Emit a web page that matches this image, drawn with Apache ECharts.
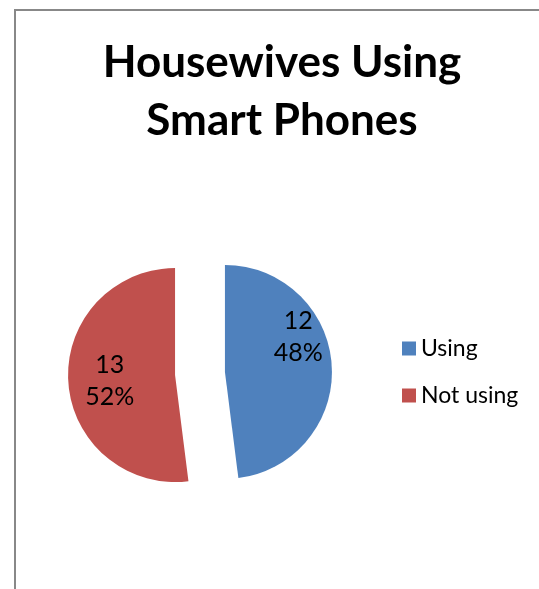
<!DOCTYPE html>
<html>
<head>
<meta charset="utf-8">
<script src="https://cdn.jsdelivr.net/npm/echarts@6/dist/echarts.min.js"></script>
<style>html,body{margin:0;padding:0;background:#fff;}#c{width:539px;height:589px;}</style>
</head>
<body>
<div id="c"></div>
<script>
var titleText = 'Housewives Using\nSmart Phones';
var categories = ['Using', 'Not using'];
var values = [12, 13];
var colors = ['#4F81BD', '#C0504D'];

var labelShifts = [[17, -31], [-9, 2]];

var chart = echarts.init(document.getElementById('c'), null, {renderer: 'canvas'});
var data = categories.map(function (name, i) {
  return {
    name: name,
    value: values[i],
    selected: true,
    itemStyle: {color: colors[i]}
  };
});
chart.setOption({
  animation: false,
  backgroundColor: '#fff',
  title: {
    text: titleText,
    left: 277,
    top: 29,
    textAlign: 'center',
    textStyle: {fontFamily: 'Lato', fontWeight: 'bold', fontSize: 44, lineHeight: 58, color: '#000'}
  },
  legend: {
    orient: 'vertical',
    left: 397,
    top: 332,
    itemWidth: 14,
    itemHeight: 14,
    itemGap: 24,
    icon: 'rect',
    data: categories,
    textStyle: {fontFamily: 'Lato', fontSize: 23, color: '#000'},
    selectedMode: false
  },
  graphic: [{
    type: 'rect',
    shape: {x: 15, y: 10, width: 600, height: 700},
    style: {fill: 'none', stroke: '#888', lineWidth: 2},
    silent: true
  }],
  series: [{
    type: 'pie',
    center: [200, 373.5],
    radius: 107,
    startAngle: 90,
    clockwise: true,
    selectedMode: 'multiple',
    selectedOffset: 25,
    emphasis: {disabled: true},
    labelLine: {show: false},
    label: {
      show: true,
      position: 'inside',
      formatter: '{c}\n{d}%',
      fontFamily: 'Lato',
      fontSize: 25,
      lineHeight: 32,
      color: '#000'
    },
    labelLayout: function (p) {
      var s = labelShifts[p.dataIndex];
      return {dx: s[0], dy: s[1]};
    },
    data: data
  }]
});
</script>
</body>
</html>
